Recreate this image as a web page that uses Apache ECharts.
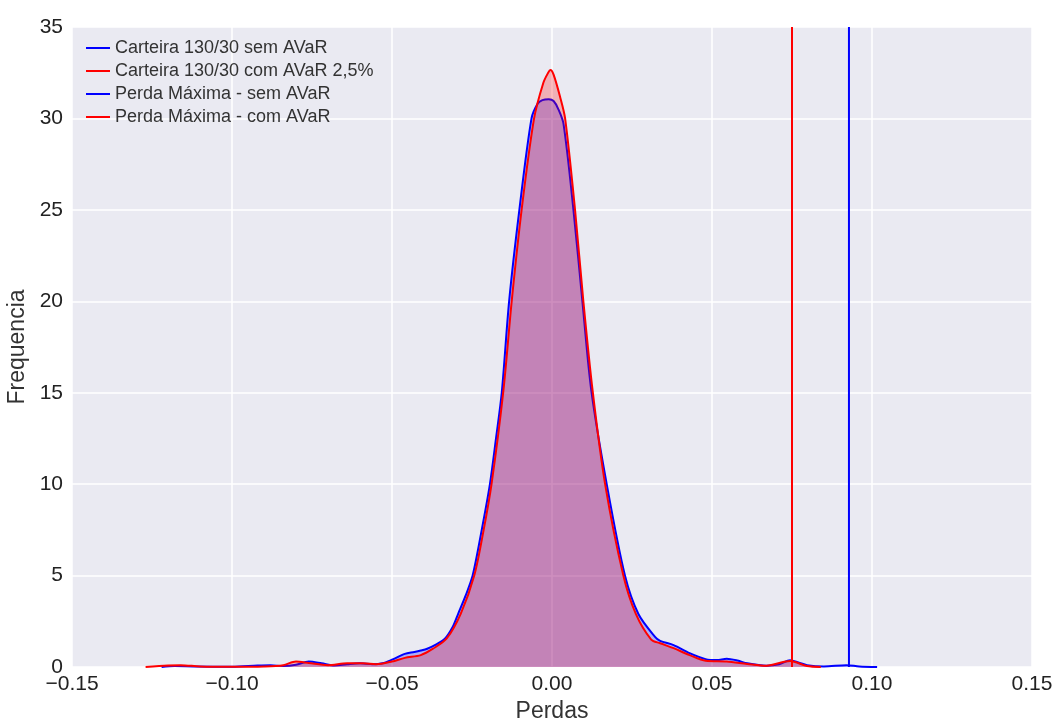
<!DOCTYPE html>
<html>
<head>
<meta charset="utf-8">
<script src="https://cdn.jsdelivr.net/npm/echarts@6/dist/echarts.min.js"></script>
<style>
  html, body { margin: 0; padding: 0; background: #fff; }
  #chart { width: 1057px; height: 720px; }
</style>
</head>
<body>
<div id="chart"></div>
<script>
// densidade estimada (kde) das perdas
var semAvar = [
  [-0.122, 0], [-0.118, 0.05], [-0.112, 0.03], [-0.1, 0.01], [-0.092, 0.08], [-0.088, 0.1],
  [-0.084, 0.05], [-0.08, 0.12], [-0.076, 0.3], [-0.072, 0.2], [-0.068, 0.08], [-0.064, 0.15],
  [-0.06, 0.2], [-0.056, 0.15], [-0.053, 0.2], [-0.05, 0.4], [-0.046, 0.72], [-0.043, 0.82],
  [-0.041, 0.9], [-0.039, 1.0], [-0.036, 1.25], [-0.0334, 1.56], [-0.031, 2.2], [-0.0293, 2.92],
  [-0.027, 3.9], [-0.0248, 5], [-0.022, 7.46], [-0.0194, 10], [-0.0175, 12.5], [-0.0157, 15],
  [-0.0134, 20], [-0.0102, 25], [-0.0064, 30], [-0.0045, 30.8], [-0.003, 31.0], [-0.001, 31.05],
  [0.0005, 30.95], [0.002, 30.5], [0.0036, 29.7], [0.0067, 25], [0.0095, 20], [0.0123, 15.1],
  [0.0171, 10], [0.0228, 5], [0.027, 2.9], [0.0322, 1.65], [0.0338, 1.43], [0.038, 1.2],
  [0.043, 0.76], [0.048, 0.43], [0.0515, 0.38], [0.0546, 0.45], [0.058, 0.35], [0.061, 0.2],
  [0.067, 0.07], [0.071, 0.15], [0.0744, 0.37], [0.077, 0.25], [0.0797, 0.1], [0.085, 0.03],
  [0.092, 0.1], [0.096, 0.03], [0.1016, 0]
];

var comAvar = [
  [-0.127, 0], [-0.12, 0.08], [-0.116, 0.1], [-0.11, 0.03], [-0.1, 0.01], [-0.09, 0.03],
  [-0.084, 0.1], [-0.08, 0.3], [-0.076, 0.22], [-0.07, 0.1], [-0.064, 0.2], [-0.059, 0.2],
  [-0.055, 0.15], [-0.05, 0.3], [-0.046, 0.5], [-0.041, 0.65], [-0.0372, 1.0], [-0.0329, 1.56],
  [-0.0285, 2.92], [-0.0243, 5], [-0.0214, 7.46], [-0.0189, 10], [-0.0152, 15.1], [-0.0126, 20],
  [-0.0095, 25], [-0.0056, 30], [-0.0027, 31.95], [-0.0012, 32.5], [-0.0005, 32.65], [0.0005, 32.4],
  [0.0025, 31.2], [0.0041, 30], [0.0072, 25], [0.0098, 20], [0.0127, 15.1], [0.0166, 10],
  [0.0223, 5], [0.0262, 2.9], [0.031, 1.5], [0.0338, 1.3], [0.038, 1.03], [0.043, 0.65],
  [0.048, 0.34], [0.0546, 0.3], [0.061, 0.17], [0.067, 0.07], [0.0744, 0.33], [0.0797, 0.05],
  [0.084, 0]
];

var perdaMaxSem = 0.0928;
var perdaMaxCom = 0.075;
var yTop = 35;

var nomes = [
  "Carteira 130/30 sem AVaR",
  "Carteira 130/30 com AVaR 2,5%",
  "Perda Máxima - sem AVaR",
  "Perda Máxima - com AVaR"
];

var fonte = "'Liberation Sans', Arial, sans-serif";

function fmt(v) {
  var s = Math.abs(v).toFixed(2);
  return v < -1e-9 ? "\u2212" + s : s;
}

var chart = echarts.init(document.getElementById("chart"));

var option = {
  animation: false,
  grid: {
    left: 72, right: 25, top: 27, bottom: 53,
    outerBoundsMode: "none",
    show: true, backgroundColor: "#eaeaf2", borderWidth: 0
  },
  legend: {
    orient: "vertical",
    left: 81, top: 34,
    itemWidth: 24, itemHeight: 14, itemGap: 5,
    icon: "path://M0,6 L24,6 L24,8 L0,8 Z",
    textStyle: { fontFamily: fonte, fontSize: 18, color: "#333", lineHeight: 18 },
    data: nomes
  },
  xAxis: {
    type: "value",
    min: -0.15, max: 0.15, interval: 0.05,
    name: "Perdas", nameLocation: "middle", nameGap: 32,
    nameTextStyle: { fontFamily: fonte, fontSize: 23, color: "#333" },
    axisLine: { show: false }, axisTick: { show: false },
    axisLabel: { fontFamily: fonte, fontSize: 21, color: "#222", margin: 7, formatter: fmt },
    splitLine: { lineStyle: { color: "#ffffff", width: 1.5 } }
  },
  yAxis: {
    type: "value",
    min: 0, max: yTop, interval: 5,
    name: "Frequencia", nameLocation: "middle", nameGap: 41,
    nameTextStyle: { fontFamily: fonte, fontSize: 23, color: "#333" },
    axisLine: { show: false }, axisTick: { show: false },
    axisLabel: { fontFamily: fonte, fontSize: 21, color: "#222", margin: 9 },
    splitLine: { lineStyle: { color: "#ffffff", width: 1.5 } }
  },
  series: [
    {
      name: nomes[0], type: "line", data: semAvar, smooth: 0.3, showSymbol: false,
      lineStyle: { color: "#0000ff", width: 2 }, itemStyle: { color: "#0000ff" },
      areaStyle: { color: "#0000ff", opacity: 0.25 }, z: 2
    },
    {
      name: nomes[1], type: "line", data: comAvar, smooth: 0.3, showSymbol: false,
      lineStyle: { color: "#ff0000", width: 2 }, itemStyle: { color: "#ff0000" },
      areaStyle: { color: "#ff0000", opacity: 0.25 }, z: 3
    },
    {
      name: nomes[2], type: "line", data: [[perdaMaxSem, 0], [perdaMaxSem, yTop]], showSymbol: false,
      lineStyle: { color: "#0000ff", width: 2 }, itemStyle: { color: "#0000ff" }, z: 4
    },
    {
      name: nomes[3], type: "line", data: [[perdaMaxCom, 0], [perdaMaxCom, yTop]], showSymbol: false,
      lineStyle: { color: "#ff0000", width: 2 }, itemStyle: { color: "#ff0000" }, z: 4
    }
  ]
};

chart.setOption(option);
</script>
</body>
</html>
